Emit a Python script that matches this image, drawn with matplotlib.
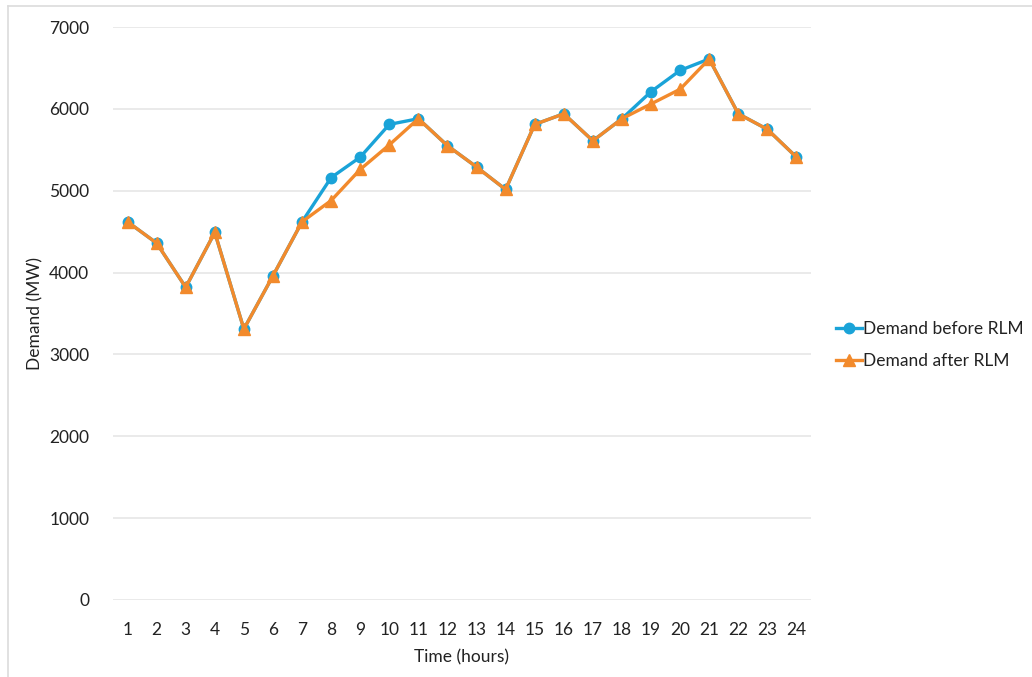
import matplotlib
matplotlib.use("Agg")
import matplotlib.pyplot as plt
from matplotlib.lines import Line2D

hours = list(range(1, 25))
demand_before = [4620, 4360, 3820, 4490, 3310, 3960, 4620, 5160, 5410, 5810, 5880, 5550,
                 5290, 5015, 5810, 5940, 5610, 5880, 6210, 6470, 6610, 5940, 5750, 5410]
demand_after = [4620, 4360, 3820, 4490, 3310, 3960, 4620, 4880, 5260, 5560, 5880, 5550,
                5290, 5015, 5810, 5940, 5610, 5880, 6060, 6240, 6610, 5940, 5750, 5410]
y_ticks = [0, 1000, 2000, 3000, 4000, 5000, 6000, 7000]

blue = "#1aa3d8"
orange = "#f28a2c"
text_color = "#222222"

plt.rcParams["font.family"] = ["Lato", "DejaVu Sans"]

fig = plt.figure(figsize=(10.32, 6.77), dpi=100)
ax = fig.add_axes([113 / 1032, 1 - 600 / 677, (811 - 113) / 1032, (600 - 27) / 677])

ax.plot(hours, demand_before, color=blue, lw=2.4, marker="o", ms=7.5,
        markeredgecolor=blue, label="Demand before RLM", zorder=3)
ax.plot(hours, demand_after, color=orange, lw=2.4, marker="^", ms=8,
        markeredgecolor=orange, label="Demand after RLM", zorder=4)

ax.set_xlim(0.5, 24.5)
ax.set_ylim(0, 7000)
ax.set_xticks(hours)
ax.set_xticklabels([str(h) for h in hours], fontsize=12.5, color=text_color)
ax.set_yticks(y_ticks)
ax.set_yticklabels([str(v) for v in y_ticks], fontsize=12.5, color=text_color)
ax.tick_params(axis="both", length=0)
ax.tick_params(axis="x", pad=16)
ax.tick_params(axis="y", pad=17)
ax.grid(axis="y", color="#e6e6e6", lw=1.2)
ax.set_axisbelow(True)
for s in ax.spines.values():
    s.set_visible(False)

ax.set_xlabel("Time (hours)", fontsize=12.5, color=text_color, labelpad=8)
ax.set_ylabel("Demand (MW)", fontsize=12.5, color=text_color, labelpad=4)

handles = [
    Line2D([0], [0], color=blue, lw=2.4, marker="o", ms=7.5),
    Line2D([0], [0], color=orange, lw=2.4, marker="^", ms=8),
]
fig.legend(handles, ["Demand before RLM", "Demand after RLM"],
           loc="center left", bbox_to_anchor=(820 / 1032, 1 - 345 / 677),
           frameon=False, fontsize=12.5, handlelength=1.5, handletextpad=0.1,
           labelspacing=0.9, labelcolor=text_color)

# light frame edges along the top and left
fig.add_artist(Line2D([8 / 1032, 1], [1 - 6 / 677, 1 - 6 / 677], color="#dcdcdc", lw=1.2))
fig.add_artist(Line2D([8 / 1032, 8 / 1032], [0, 1 - 6 / 677], color="#dcdcdc", lw=1.2))

fig.savefig("out.png", dpi=100, facecolor="white")
